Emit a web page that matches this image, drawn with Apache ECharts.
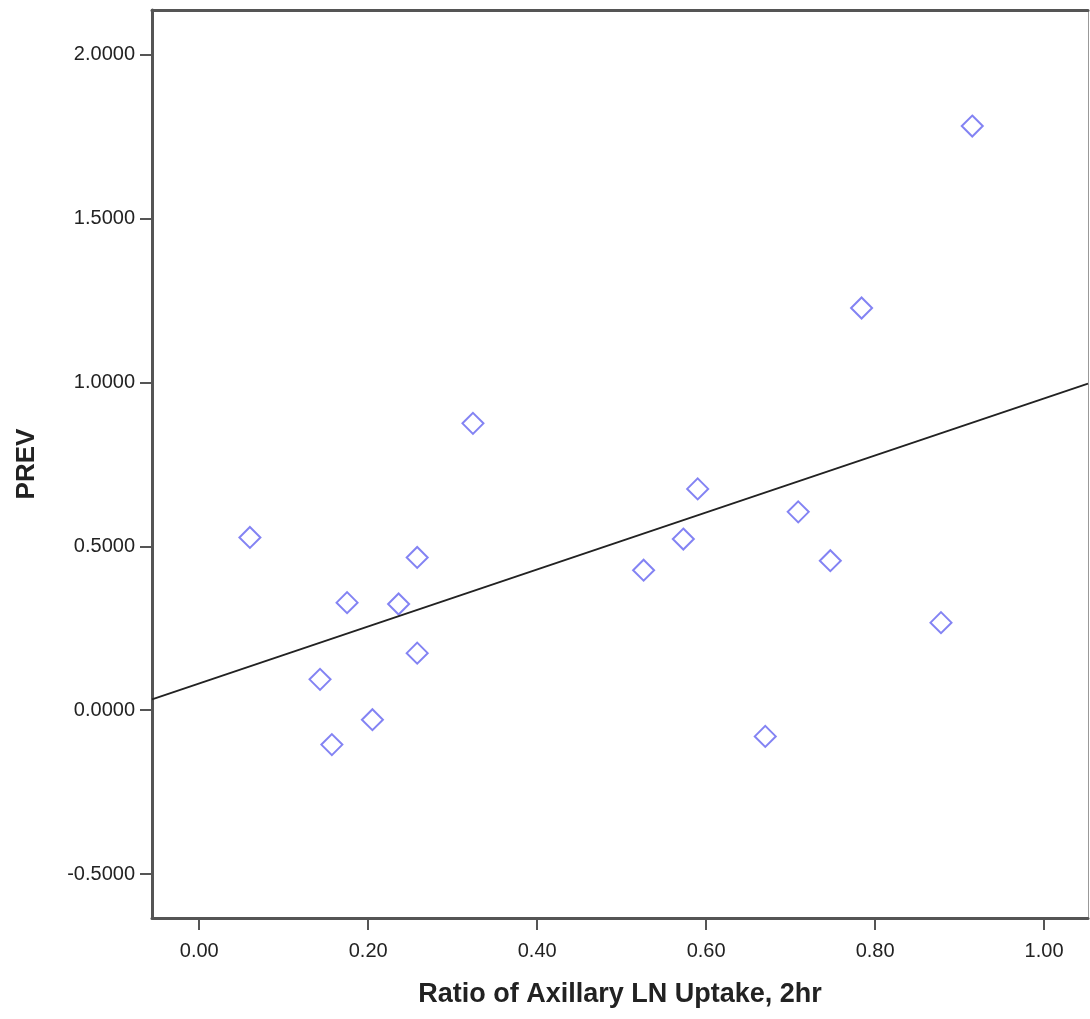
<!DOCTYPE html>
<html>
<head>
<meta charset="utf-8">
<script src="https://cdn.jsdelivr.net/npm/echarts@6/dist/echarts.min.js"></script>
<style>
html,body{margin:0;padding:0;background:#fff;}
#chart{width:1090px;height:1019px;}
</style>
</head>
<body>
<div id="chart"></div>
<script>
// Data
var ratioX = [0.060, 0.143, 0.157, 0.175, 0.205, 0.236, 0.258, 0.258, 0.324, 0.526, 0.573, 0.590, 0.670, 0.709, 0.747, 0.784, 0.878, 0.915];
var prevY  = [0.527, 0.094, -0.105, 0.328, -0.029, 0.324, 0.466, 0.174, 0.875, 0.427, 0.522, 0.675, -0.080, 0.605, 0.456, 1.227, 0.267, 1.782];
var fitLineX = [-0.0559, 1.052];
var fitLineY = [0.033, 0.996];
var xTicks = [0, 0.2, 0.4, 0.6, 0.8, 1.0];
var yTicks = [-0.5, 0, 0.5, 1.0, 1.5, 2.0];
var xTitle = 'Ratio of Axillary LN Uptake, 2hr';
var yTitle = 'PREV';

var points = ratioX.map(function (x, i) { return [x, prevY[i]]; });
var fit = fitLineX.map(function (x, i) { return [x, fitLineY[i]]; });

var font = "'Liberation Sans', Arial, sans-serif";
var axisColor = '#555';
var xMin = -0.0559, xMax = 1.052, yMin = -0.634, yMax = 2.136;

var chart = echarts.init(document.getElementById('chart'), null, {renderer: 'canvas'});
chart.setOption({
  animation: false,
  backgroundColor: '#fff',
  grid: {left: 152, top: 10, right: 2, bottom: 101},
  xAxis: [{
    type: 'value',
    min: xMin, max: xMax,
    name: xTitle,
    nameLocation: 'middle',
    nameGap: 63,
    nameTextStyle: {fontFamily: font, fontSize: 27, fontWeight: 'bold', color: '#222'},
    axisLine: {show: true, onZero: false, lineStyle: {color: axisColor, width: 3}},
    axisTick: {show: true, length: 12, customValues: xTicks, lineStyle: {color: axisColor, width: 2}},
    axisLabel: {
      customValues: xTicks, margin: 23,
      fontFamily: font, fontSize: 20, color: '#222',
      formatter: function (v) { return v.toFixed(2); }
    },
    splitLine: {show: false}
  }, {
    type: 'value', position: 'top',
    min: xMin, max: xMax,
    axisLine: {show: true, onZero: false, lineStyle: {color: axisColor, width: 3}},
    axisTick: {show: false}, axisLabel: {show: false}, splitLine: {show: false}
  }],
  yAxis: [{
    type: 'value',
    min: yMin, max: yMax,
    name: yTitle,
    nameLocation: 'middle',
    nameGap: 112,
    nameTextStyle: {fontFamily: font, fontSize: 26, fontWeight: 'bold', color: '#222'},
    axisLine: {show: true, onZero: false, lineStyle: {color: axisColor, width: 3}},
    axisTick: {show: true, length: 12, customValues: yTicks, lineStyle: {color: axisColor, width: 2}},
    axisLabel: {
      customValues: yTicks, margin: 17,
      fontFamily: font, fontSize: 20, color: '#222',
      formatter: function (v) { return v.toFixed(4); }
    },
    splitLine: {show: false}
  }, {
    type: 'value', position: 'right',
    min: yMin, max: yMax,
    axisLine: {show: true, onZero: false, lineStyle: {color: '#999', width: 1}},
    axisTick: {show: false}, axisLabel: {show: false}, splitLine: {show: false}
  }],
  series: [
    {
      type: 'scatter',
      data: points,
      symbol: 'diamond',
      symbolSize: 21,
      itemStyle: {color: '#fff', borderColor: '#6464f0', borderWidth: 2},
      z: 2
    },
    {
      type: 'line',
      data: fit,
      symbol: 'none',
      lineStyle: {color: '#222', width: 1.8},
      z: 3
    }
  ]
});
</script>
</body>
</html>
